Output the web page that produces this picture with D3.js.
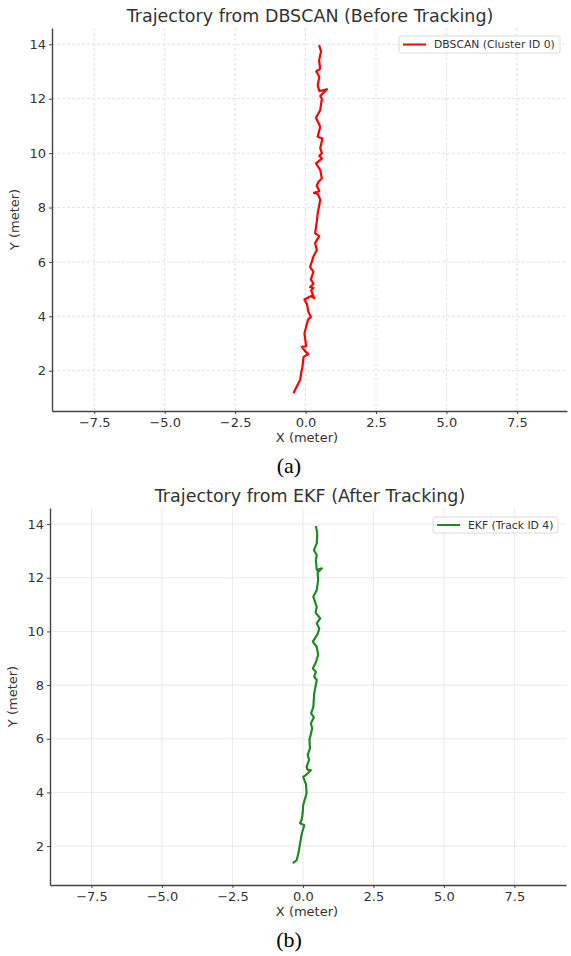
<!DOCTYPE html>
<html>
<head>
<meta charset="utf-8">
<script src="https://cdn.jsdelivr.net/npm/d3@7"></script>
<style>
  body { margin: 0; background: #fff; }
  svg text { font-family: "DejaVu Sans", sans-serif; }
</style>
</head>
<body>
<script>
// trajectory samples, [x, y] in meters
const dbscanPoints = [
  [-0.43,1.17],[-0.29,1.47],[-0.19,1.66],[-0.16,1.9],[-0.11,2.15],[-0.07,2.51],[0.1,2.61],
  [-0.04,2.75],[-0.13,2.88],[0.02,2.9],[-0.04,3.37],[0.05,3.74],[0.1,3.9],[0.19,3.98],
  [0.1,4.17],[0.05,4.45],[-0.04,4.62],[0.2,4.75],[0.31,4.66],[0.2,4.95],[0.28,5.05],
  [0.16,5.07],[0.28,5.2],[0.19,5.35],[0.28,5.64],[0.16,5.82],[0.22,6.0],[0.28,6.2],
  [0.4,6.44],[0.34,6.7],[0.49,6.95],[0.34,7.05],[0.4,7.5],[0.43,7.79],[0.49,8.1],
  [0.52,8.3],[0.43,8.5],[0.3,8.54],[0.49,8.6],[0.4,8.8],[0.46,8.95],[0.58,9.07],
  [0.52,9.38],[0.37,9.62],[0.58,9.8],[0.49,9.9],[0.58,10.0],[0.52,10.18],[0.6,10.54],
  [0.43,10.6],[0.52,10.97],[0.37,11.3],[0.52,11.58],[0.58,12.0],[0.52,12.1],[0.76,12.35],
  [0.49,12.28],[0.43,12.5],[0.49,12.8],[0.43,12.92],[0.38,13.0],[0.52,13.1],[0.48,13.4],
  [0.55,13.75],[0.48,13.97]
];
const ekfPoints = [
  [-0.36,1.36],[-0.22,1.48],[-0.16,1.73],[-0.1,2.1],[-0.04,2.47],[0.05,2.78],[-0.1,2.85],
  [-0.04,3.0],[-0.01,3.22],[0.01,3.53],[0.13,3.97],[0.11,4.3],[0.01,4.58],[0.11,4.65],
  [0.28,4.83],[0.16,4.85],[0.13,4.96],[0.22,5.21],[0.17,5.4],[0.25,5.64],[0.23,5.95],
  [0.33,6.39],[0.28,6.57],[0.39,6.8],[0.29,6.95],[0.37,7.19],[0.4,7.69],[0.49,8.19],
  [0.4,8.31],[0.46,8.5],[0.35,8.62],[0.46,8.85],[0.54,9.12],[0.49,9.43],[0.35,9.62],
  [0.52,9.9],[0.58,10.11],[0.49,10.3],[0.61,10.49],[0.45,10.7],[0.49,10.92],[0.37,11.29],
  [0.49,11.54],[0.54,11.92],[0.52,12.2],[0.67,12.35],[0.49,12.29],[0.46,12.66],[0.49,12.85],
  [0.39,13.03],[0.49,13.28],[0.51,13.66],[0.46,13.93]
];
const xTicks = [-7.5, -5.0, -2.5, 0.0, 2.5, 5.0, 7.5];
const yTicks = [2, 4, 6, 8, 10, 12, 14];
const titles = ["Trajectory from DBSCAN (Before Tracking)", "Trajectory from EKF (After Tracking)"];
const legendNames = ["DBSCAN (Cluster ID 0)", "EKF (Track ID 4)"];
const captions = ["(a)", "(b)"];

const W = 571, H = 956;
const svg = d3.select("body").append("svg").attr("width", W).attr("height", H);

const panels = [
  { points: dbscanPoints, color: "#ff0000", left: 52, right: 567, top: 28, bottom: 411,
    xDom: [-9.0, 9.28], yDom: [0.52, 14.6], titleY: 22, dash: "3,2", grid: "#d9d9d9",
    legend: { x: 399, y: 36, w: 161, h: 17 }, labY: 442, capY: 473, capX: 289 },
  { points: ekfPoints, color: "#1f8a1f", left: 50, right: 566, top: 508, bottom: 885,
    xDom: [-8.97, 9.33], yDom: [0.55, 14.6], titleY: 502, dash: null, grid: "#e4e4e4",
    legend: { x: 433, y: 517, w: 125, h: 16 }, labY: 916, capY: 947, capX: 289 }
];

const fmtX = d => d3.format(".1f")(d).replace("-", "\u2212");

panels.forEach((p, i) => {
  const x = d3.scaleLinear().domain(p.xDom).range([p.left, p.right]);
  const y = d3.scaleLinear().domain(p.yDom).range([p.bottom, p.top]);
  const g = svg.append("g");

  // grid
  g.append("g").selectAll("line.gx").data(xTicks).enter().append("line")
    .attr("x1", d => x(d)).attr("x2", d => x(d))
    .attr("y1", p.top).attr("y2", p.bottom)
    .attr("stroke", p.grid).attr("stroke-width", 0.8)
    .attr("stroke-dasharray", p.dash);
  g.append("g").selectAll("line.gy").data(yTicks).enter().append("line")
    .attr("x1", p.left).attr("x2", p.right)
    .attr("y1", d => y(d)).attr("y2", d => y(d))
    .attr("stroke", p.grid).attr("stroke-width", 0.8)
    .attr("stroke-dasharray", p.dash);

  // axes
  const xAxis = g.append("g")
    .attr("transform", "translate(0," + p.bottom + ")")
    .call(d3.axisBottom(x).tickValues(xTicks).tickFormat(fmtX).tickSize(3).tickSizeOuter(0));
  const yAxis = g.append("g")
    .attr("transform", "translate(" + p.left + ",0)")
    .call(d3.axisLeft(y).tickValues(yTicks).tickSize(3).tickSizeOuter(0));
  [xAxis, yAxis].forEach(a => {
    a.select(".domain").attr("stroke", "#444").attr("stroke-width", 1.4);
    a.selectAll(".tick line").attr("stroke", "#444");
    a.selectAll(".tick text").attr("fill", "#333").style("font-size", "13px")
      .style("font-family", "DejaVu Sans, sans-serif");
  });
  xAxis.selectAll(".tick text").attr("dy", "0.8em");

  // trajectory
  const line = d3.line().x(d => x(d[0])).y(d => y(d[1]));
  g.append("path").datum(p.points)
    .attr("d", line)
    .attr("fill", "none")
    .attr("stroke", p.color)
    .attr("stroke-width", 2.2)
    .attr("stroke-linejoin", "round");

  // title and labels
  g.append("text").attr("x", 310).attr("y", p.titleY)
    .attr("text-anchor", "middle").attr("fill", "#333")
    .style("font-size", "17.5px").text(titles[i]);
  g.append("text").attr("x", 307).attr("y", p.labY)
    .attr("text-anchor", "middle").attr("fill", "#333")
    .style("font-size", "13px").text("X (meter)");
  g.append("text")
    .attr("transform", "translate(" + (p.left - 33) + "," + ((p.top + p.bottom) / 2) + ") rotate(-90)")
    .attr("text-anchor", "middle").attr("fill", "#333")
    .style("font-size", "13px").text("Y (meter)");

  // legend
  const L = p.legend;
  const lg = g.append("g").attr("transform", "translate(" + L.x + "," + L.y + ")");
  lg.append("rect").attr("width", L.w).attr("height", L.h).attr("rx", 2)
    .attr("fill", "#fff").attr("fill-opacity", 0.85)
    .attr("stroke", "#d0d0d0").attr("stroke-width", 0.8);
  lg.append("line").attr("x1", 4).attr("x2", 27).attr("y1", L.h / 2).attr("y2", L.h / 2)
    .attr("stroke", p.color).attr("stroke-width", 2);
  lg.append("text").attr("x", 35).attr("y", L.h / 2).attr("dy", "0.35em")
    .attr("fill", "#333").style("font-size", "10.8px").text(legendNames[i]);

  // caption
  svg.append("text").attr("x", p.capX).attr("y", p.capY)
    .attr("text-anchor", "middle").attr("fill", "#000")
    .style("font-family", "Liberation Serif, Times New Roman, serif")
    .style("font-size", "22px").text(captions[i]);
});
</script>
</body>
</html>
